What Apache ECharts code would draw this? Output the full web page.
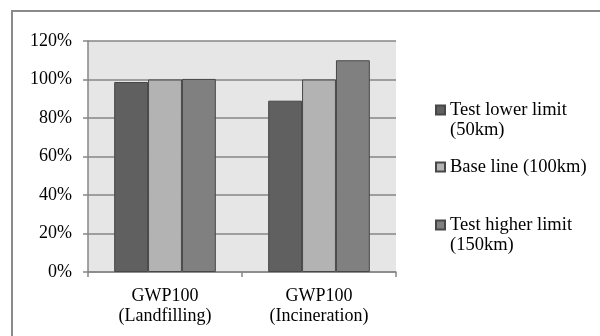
<!DOCTYPE html>
<html>
<head>
<meta charset="utf-8">
<script src="https://cdn.jsdelivr.net/npm/echarts@6/dist/echarts.min.js"></script>
<style>
html,body{margin:0;padding:0;background:#fff;}
#c{width:600px;height:336px;}
</style>
</head>
<body>
<div id="c"></div>
<script>
var categories = ['GWP100\n(Landfilling)', 'GWP100\n(Incineration)'];
var seriesNames = ['Test lower limit\n(50km)', 'Base line (100km)', 'Test higher limit\n(150km)'];
var lowerLimit = [0.987, 0.89];
var baseLine = [1.0, 1.0];
var higherLimit = [1.003, 1.10];
var yTicks = [0, 0.2, 0.4, 0.6, 0.8, 1.0, 1.2];

var colors = ['#606060', '#b3b3b3', '#808080'];
var font = 'Liberation Serif, Times New Roman, serif';
var gridColor = '#868686';
var fs = 18;

var chart = echarts.init(document.getElementById('c'), null, {renderer: 'canvas'});

function mkSeries(name, data, color) {
  return {
    name: name, type: 'bar', data: data,
    barGap: '0%', barCategoryGap: '34%',
    itemStyle: {color: color, borderColor: '#474747', borderWidth: 1},
    emphasis: {disabled: true}
  };
}

var twoLineIcon = 'path://M0,0h9v9h-9zM0,29';
function mkLegend(name, top, twoLine) {
  return {
    data: [name], left: 435, top: top, padding: 0,
    orient: 'vertical', selectedMode: false,
    icon: twoLine ? twoLineIcon : 'rect',
    itemWidth: 9, itemHeight: twoLine ? 29 : 9,
    textStyle: {fontFamily: font, fontSize: 18.5, color: '#000', lineHeight: 20}
  };
}

chart.setOption({
  animation: false,
  backgroundColor: '#fff',
  graphic: [{
    type: 'rect', shape: {x: 12, y: 11, width: 700, height: 400},
    style: {fill: 'none', stroke: '#8a8a8a', lineWidth: 2}, silent: true, z: -1
  }],
  grid: {left: 88, top: 41, width: 308, height: 231, show: true,
         backgroundColor: '#e6e6e6', borderWidth: 0},
  legend: [
    mkLegend(seriesNames[0], 100, true),
    mkLegend(seriesNames[1], 157, false),
    mkLegend(seriesNames[2], 215, true)
  ],
  xAxis: {
    type: 'category', data: categories,
    axisLine: {show: true, lineStyle: {color: gridColor, width: 1.5}},
    axisTick: {show: true, length: 5, alignWithLabel: false, lineStyle: {color: gridColor, width: 1.5}},
    axisLabel: {fontFamily: font, fontSize: fs, color: '#000', lineHeight: 20, margin: 14}
  },
  yAxis: {
    type: 'value', min: yTicks[0], max: yTicks[yTicks.length - 1], interval: 0.2,
    axisLine: {show: true, lineStyle: {color: gridColor, width: 1.5}},
    axisTick: {show: true, length: 5, lineStyle: {color: gridColor, width: 1.5}},
    splitLine: {show: true, lineStyle: {color: gridColor, width: 1.5}},
    axisLabel: {fontFamily: font, fontSize: fs, color: '#000', margin: 16,
      formatter: function (v) { return Math.round(v * 100) + '%'; }}
  },
  series: [
    mkSeries(seriesNames[0], lowerLimit, colors[0]),
    mkSeries(seriesNames[1], baseLine, colors[1]),
    mkSeries(seriesNames[2], higherLimit, colors[2])
  ]
});
</script>
</body>
</html>
